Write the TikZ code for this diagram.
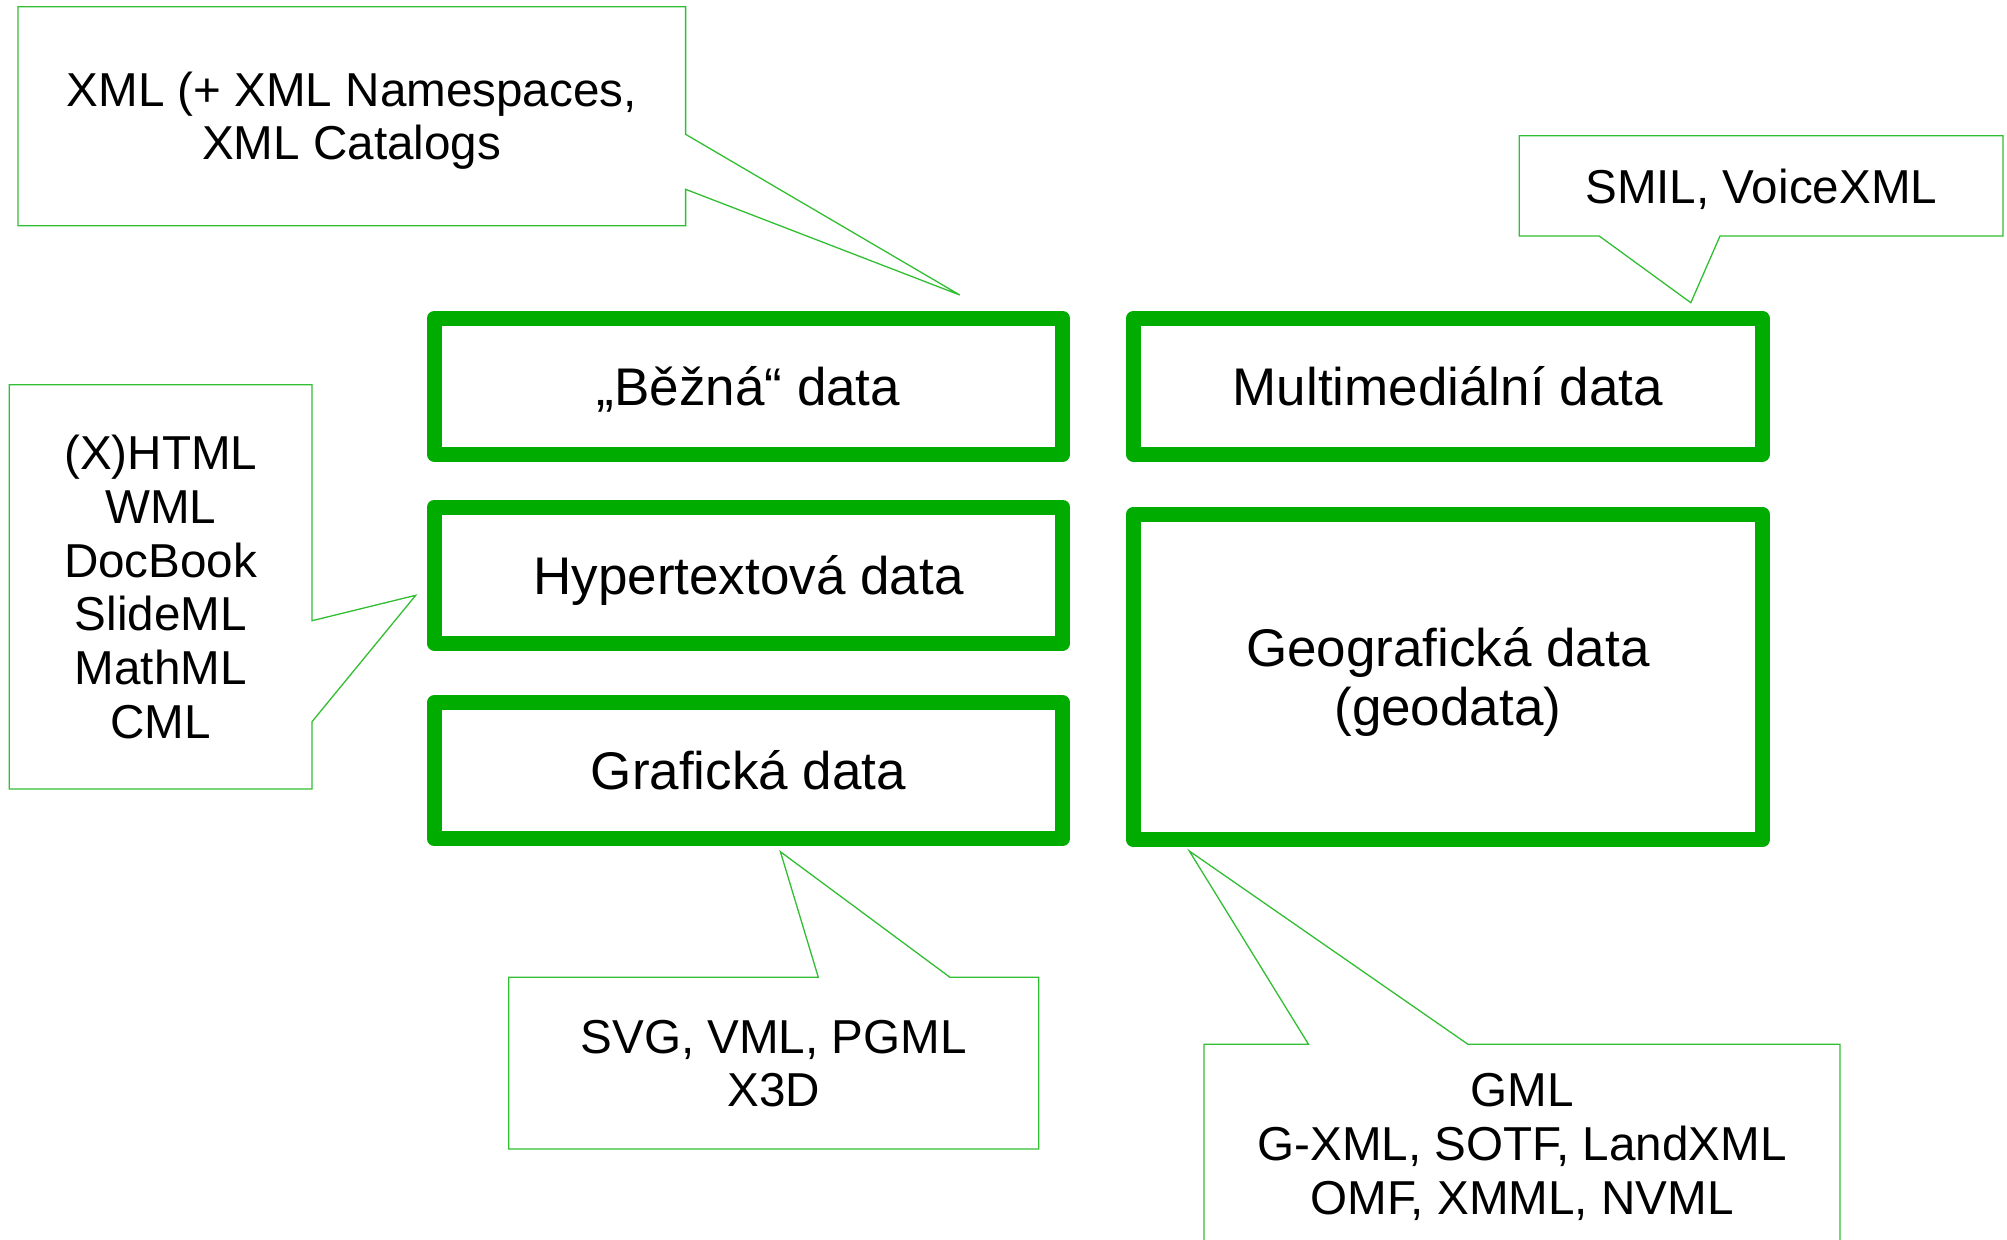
\documentclass[tikz,border=0pt]{standalone}
\usepackage{fontspec}
\setmainfont{Liberation Sans}
\usepackage{tikz}
\usetikzlibrary{positioning}
\definecolor{boxgreen}{RGB}{0,172,0}
\definecolor{notegreen}{RGB}{50,190,50}

\begin{document}
\begin{tikzpicture}[x=0.5pt, y=-0.5pt,
	databox/.style={draw=boxgreen, line width=7.5pt, line join=round, minimum width=314.35pt, minimum height=68pt, inner sep=0, align=center, font=\fontsize{26.5}{29.5}\selectfont, text height=19pt, text depth=0pt},
	note/.style={inner sep=0, align=center, font=\fontsize{23.8}{26.9}\selectfont, text height=17pt, text depth=0pt},
	outline/.style={draw=notegreen, line width=0.65pt, line join=miter}
]
\useasboundingbox (0,0) rectangle (2007,1239);
\clip (0,0) rectangle (2007,1239);

\node[databox] (bezna) at (748.5,386.3) {„Běžná“ data};
\node[databox] (hyper) at (748.5,575) {Hypertextová data};
\node[databox] (graf)  at (748.5,770.7) {Grafická data};
\node[databox] (multi) at (1447.8,386.2) {Multimediální data};
\node[databox, minimum height=162.85pt, text height=48.5pt] (geo) at (1447.8,677) {Geografická data\\(geodata)};

\node[note, text height=43.9pt] (xmlnote) at (351.7,116) {XML (+ XML Namespaces,\\XML Catalogs};
\node[note] (smilnote) at (1761.2,186) {SMIL, VoiceXML};
\node[note, text height=151.5pt] (htmlnote) at (160.7,587) {(X)HTML\\WML\\DocBook\\SlideML\\MathML\\CML};
\node[note, text height=43.9pt] (svgnote) at (773.7,1063) {SVG, VML, PGML\\X3D};
\node[note, text height=70.8pt] (gmlnote) at (1522,1143.6) {GML\\G-XML, SOTF, LandXML\\OMF, XMML, NVML};

\coordinate (tipxml)  at (959.8,295);
\coordinate (tipsmil) at (1690.8,302.7);
\coordinate (tiphtml) at (415.7,595.3);
\coordinate (tipsvg)  at (780.4,851.7);
\coordinate (tipgml)  at (1189.3,851);

\draw[outline] (685.6,134.3) -- (685.6,6.7) -- (17.9,6.7) -- (17.9,225.7) -- (685.6,225.7) -- (685.6,189.3) -- (tipxml) -- cycle;
\draw[outline] (1599.2,236) -- (1519.3,236) -- (1519.3,135.7) -- (2003,135.7) -- (2003,236) -- (1720,236) -- (tipsmil) -- cycle;
\draw[outline] (312,620.7) -- (312,384.7) -- (9.3,384.7) -- (9.3,789) -- (312,789) -- (312,721.7) -- (tiphtml) -- cycle;
\draw[outline] (818.3,977.3) -- (508.7,977.3) -- (508.7,1149) -- (1038.7,1149) -- (1038.7,977.3) -- (950,977.3) -- (tipsvg) -- cycle;
\draw[outline] (1308.5,1044.3) -- (1204,1044.3) -- (1204,1260) -- (1840,1260) -- (1840,1044.3) -- (1468,1044.3) -- (tipgml) -- cycle;
\end{tikzpicture}
\end{document}
